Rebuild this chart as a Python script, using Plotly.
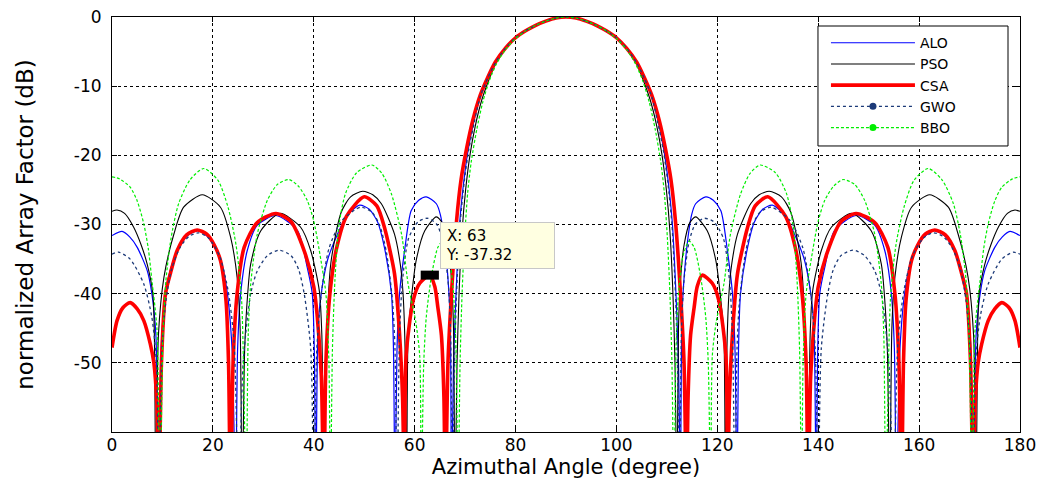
import plotly.graph_objects as go

# ---------------- data ----------------
# (angle in degrees, normalized array factor in dB); values below -60 are deep nulls
ALO = [(0,-31.6),(2,-31.0),(3.5,-31.8),(5,-33.3),(7,-36.7),(7.9,-40),(8.7,-46),(9.2,-70),
       (9.8,-47),(10.6,-40),(11.8,-36),(13.2,-33.5),(15,-31.6),(17,-30.9),(19,-31.8),(21.5,-35),(22.8,-39.6),(23.8,-48),(24.5,-70),
       (24.9,-48),(25.5,-40),(26.8,-33.8),(28.8,-30.1),(32.5,-28.7),(36.8,-30.9),(38.7,-36.2),(39.7,-40),(40.1,-48),(40.4,-70),
       (40.8,-46),(41.3,-41),(42.7,-35.2),(44.7,-31.4),(46.5,-28.8),(49.1,-27.2),(51,-27.8),(52.7,-29.7),(54,-33.3),(55.4,-40),(55.8,-48),(56.1,-70),
       (56.5,-48),(57,-40),(58,-33.8),(59.3,-28),(60.8,-26.5),(62.3,-26.0),(64.3,-27),(65.1,-28.6),(66,-33),(66.8,-40),(67.1,-46),(67.3,-70),
       (67.7,-50),(68.2,-40),(68.9,-30),(69.7,-24),(70.6,-19.2),(71.7,-15.2),(73,-11.5),(74.5,-8.8),(76,-6.6),(78,-4.5),(80,-3.0),(82,-2.0),(84,-1.2),(86,-0.6),(88,-0.15),(90,0),
       (92,-0.15),(94,-0.6),(96,-1.2),(98,-2.0),(100,-3.0),(102,-4.5),(104,-6.6),(105.5,-8.8),(107,-11.5),(108.3,-15.2),(109.4,-19.2),(110.3,-24),(111.1,-30),(111.8,-40),(112.3,-50),
       (112.7,-70),(112.9,-46),(113.2,-40),(114,-33),(114.9,-28.6),(115.7,-27),(117.7,-26.0),(119.2,-26.5),(120.7,-28),(122,-33.8),(123,-40),(123.5,-48),
       (123.9,-70),(124.2,-48),(124.6,-40),(126,-33.3),(127.3,-29.7),(129,-27.8),(130.9,-27.2),(133.5,-28.8),(135.3,-31.4),(137.3,-35.2),(138.7,-41),(139.2,-46),
       (139.6,-70),(139.9,-48),(140.3,-40),(141.3,-36.2),(143.2,-30.9),(147.5,-28.7),(151.2,-30.1),(153.2,-33.8),(154.5,-40),(155.1,-48),
       (155.5,-70),(156.2,-48),(157.2,-39.6),(158.5,-35),(161,-31.8),(163,-30.9),(165,-31.6),(166.8,-33.5),(168.2,-36),(169.4,-40),(170.2,-47),
       (170.8,-70),(171.3,-46),(172.1,-40),(173,-36.7),(175,-33.3),(176.5,-31.8),(178,-31.0),(180,-31.6)]

PSO = [(0,-28.1),(1,-27.9),(2.5,-28.4),(4.3,-30.4),(5.8,-33),(7,-35.8),(8.1,-40),(8.4,-46),(8.7,-70),
       (9.2,-46),(10.3,-37.6),(12.3,-31.3),(14.2,-27.5),(17.9,-25.7),(21.5,-27.5),(23.5,-31.8),(24.8,-37.6),(25.4,-45),(25.8,-70),
       (26.3,-48),(26.9,-40),(27.5,-35.7),(29.5,-30.9),(33.3,-28.4),(37.4,-30.4),(39.4,-33.8),(41.1,-39.6),(41.6,-46),(42,-70),
       (42.5,-47),(43.4,-35.5),(45.4,-28.3),(47.3,-26),(49.7,-25.2),(51.7,-25.7),(53.4,-27),(56,-31.4),(57.2,-36),(57.7,-40),(58.1,-48),(58.4,-70),
       (58.7,-46),(59.3,-41),(60.3,-35.2),(62,-30.9),(64.3,-28.9),(65.5,-29.8),(66.6,-33),(67.3,-38),(67.7,-45),(68.0,-70),
       (68.4,-50),(68.8,-40),(69.4,-31),(70.1,-25),(71,-19.8),(72,-15.8),(73.3,-12),(74.7,-9.1),(76,-6.8),(78,-4.6),(80,-3.0),(82,-2.0),(84,-1.2),(86,-0.6),(88,-0.15),(90,0),
       (92,-0.15),(94,-0.6),(96,-1.2),(98,-2.0),(100,-3.0),(102,-4.6),(104,-6.8),(105.3,-9.1),(106.7,-12),(108,-15.8),(109,-19.8),(109.9,-25),(110.6,-31),(111.2,-40),(111.6,-50),
       (112,-70),(112.3,-45),(112.7,-38),(113.4,-33),(114.5,-29.8),(115.7,-28.9),(118,-30.9),(119.7,-35.2),(120.7,-41),(121.3,-46),
       (121.6,-70),(121.9,-48),(122.3,-40),(122.8,-36),(124,-31.4),(126.6,-27),(128.3,-25.7),(130.3,-25.2),(132.7,-26),(134.6,-28.3),(136.6,-35.5),(137.5,-47),
       (138,-70),(138.4,-46),(138.9,-39.6),(140.6,-33.8),(142.6,-30.4),(146.7,-28.4),(150.5,-30.9),(152.5,-35.7),(153.1,-40),(153.7,-48),
       (154.2,-70),(154.6,-45),(155.2,-37.6),(156.5,-31.8),(158.5,-27.5),(162.1,-25.7),(165.8,-27.5),(167.7,-31.3),(169.7,-37.6),(170.8,-46),
       (171.3,-70),(171.6,-46),(171.9,-40),(173,-35.8),(174.2,-33),(175.7,-30.4),(177.5,-28.4),(179,-27.9),(180,-28.1)]

CSA = [(0,-47.8),(1,-43.9),(2.2,-42),(3.6,-41.3),(5,-42.2),(6.3,-43.9),(7.6,-47.3),(8.3,-50),(8.9,-56),(9.3,-70),
       (9.8,-50),(10.6,-40),(11.6,-37),(12.9,-33.8),(14.8,-31.5),(16.9,-30.8),(18.8,-31.4),(20.3,-33),(21.5,-35.2),(22.6,-41),(23.1,-50),(23.5,-70),
       (24.0,-50),(24.8,-40),(26.2,-33.3),(28.8,-29.7),(32.5,-28.4),(35.5,-29.6),(38.1,-33.8),(40,-39),(40.7,-43.4),(41.5,-52),(42,-70),
       (42.4,-50),(43.2,-40),(44.5,-33.5),(46.5,-28.8),(50.0,-26.0),(52.5,-27.3),(54,-30.4),(56,-37.1),(57,-45.8),(57.6,-55),(58,-70),
       (58.3,-49),(59.7,-41),(61,-38.5),(63,-37.32),(64,-39),(64.6,-42),(65.3,-46),(65.8,-55),(66.1,-70),
       (66.6,-50),(67.3,-40),(68.3,-29.5),(69.2,-23.5),(70.3,-19.0),(71.5,-15.0),(73,-11.3),(74.5,-8.7),(76,-6.5),(78,-4.5),(80,-3.0),(82,-2.0),(84,-1.2),(86,-0.6),(88,-0.15),(90,0),
       (92,-0.15),(94,-0.6),(96,-1.2),(98,-2.0),(100,-3.0),(102,-4.5),(104,-6.5),(105.5,-8.7),(107,-11.3),(108.5,-15.0),(109.7,-19.0),(110.8,-23.5),(111.7,-29.5),(112.7,-40),(113.4,-50),
       (113.9,-70),(114.2,-55),(114.7,-46),(115.4,-42),(116,-39),(117,-37.32),(119,-38.5),(120.3,-41),(121.7,-49),
       (122,-70),(122.4,-55),(123,-45.8),(124,-37.1),(126,-30.4),(127.5,-27.3),(130.0,-26.0),(133.5,-28.8),(135.5,-33.5),(136.8,-40),(137.6,-50),
       (138,-70),(138.5,-52),(139.3,-43.4),(140,-39),(141.9,-33.8),(144.5,-29.6),(147.5,-28.4),(151.2,-29.7),(153.8,-33.3),(155.2,-40),(156,-50),
       (156.5,-70),(156.9,-50),(157.4,-41),(158.5,-35.2),(159.7,-33),(161.2,-31.4),(163.1,-30.8),(165.2,-31.5),(167.1,-33.8),(168.4,-37),(169.4,-40),(170.2,-50),
       (170.7,-70),(171.1,-56),(171.7,-50),(172.4,-47.3),(173.7,-43.9),(175,-42.2),(176.4,-41.3),(177.8,-42),(179,-43.9),(180,-47.8)]

GWO = [(0,-34.3),(1.3,-34.0),(3.6,-35),(6.3,-38.6),(7.9,-43.4),(8.8,-50),(9.3,-70),
       (9.9,-48),(10.7,-41),(11.8,-36.5),(13.5,-33.3),(15.3,-31.7),(17.2,-31.2),(19.2,-32),(21.3,-34.5),(23,-39.5),(24.2,-47),(25.1,-70),
       (26,-50),(27.5,-40),(28.8,-36.7),(30.8,-34.5),(33.1,-33.7),(35.5,-34.5),(37,-36.5),(38.1,-40),(39.4,-48),(40,-70),
       (40.6,-48),(41.5,-40),(43,-33.5),(45.5,-29.5),(49.3,-27.5),(51.5,-28.2),(53,-30),(54.4,-34),(55.6,-41),(56.1,-48),(56.5,-70),
       (57.0,-46),(57.6,-38),(58.8,-32),(60.7,-29.6),(62.6,-29.1),(64.4,-30),(65.6,-32.5),(66.6,-38),(67.1,-45),(67.5,-70),
       (67.9,-50),(68.3,-40),(69,-30),(69.8,-24),(70.7,-19.3),(71.8,-15.3),(73,-11.5),(74.5,-8.8),(76,-6.6),(78,-4.5),(80,-3.0),(82,-2.0),(84,-1.2),(86,-0.6),(88,-0.15),(90,0),
       (92,-0.15),(94,-0.6),(96,-1.2),(98,-2.0),(100,-3.0),(102,-4.5),(104,-6.6),(105.5,-8.8),(107,-11.5),(108.2,-15.3),(109.3,-19.3),(110.2,-24),(111,-30),(111.7,-40),(112.1,-50),
       (112.5,-70),(112.9,-45),(113.4,-38),(114.4,-32.5),(115.6,-30),(117.4,-29.1),(119.3,-29.6),(121.2,-32),(122.4,-38),(123,-46),
       (123.5,-70),(123.9,-48),(124.4,-41),(125.6,-34),(127,-30),(128.5,-28.2),(130.7,-27.5),(134.5,-29.5),(137,-33.5),(138.5,-40),(139.4,-48),
       (140,-70),(140.6,-48),(141.9,-40),(143,-36.5),(144.5,-34.5),(146.9,-33.7),(149.2,-34.5),(151.2,-36.7),(152.5,-40),(154,-50),
       (154.9,-70),(155.8,-47),(157,-39.5),(158.7,-34.5),(160.8,-32),(162.8,-31.2),(164.7,-31.7),(166.5,-33.3),(168.2,-36.5),(169.3,-41),(170.1,-48),
       (170.7,-70),(171.2,-50),(172.1,-43.4),(173.7,-38.6),(176.4,-35),(178.7,-34.0),(180,-34.3)]

BBO = [(0,-23.1),(1.5,-23.4),(3.6,-24.6),(5,-26.6),(6.3,-29.9),(7.2,-33.5),(7.9,-38),(8.9,-45),(9.5,-70),
       (10.1,-46),(10.7,-38),(11.7,-32),(13.2,-27),(15.5,-23.5),(18.2,-21.9),(21,-23.6),(23,-27.5),(24.6,-33),(25.7,-41),(26.6,-70),
       (27.0,-46),(27.5,-38.6),(28.8,-31.4),(30.8,-26.5),(32.8,-24.2),(35.1,-23.5),(37,-24.5),(38.7,-26.5),(40,-29.5),(41.1,-33.8),(42.4,-40),(43,-50),(43.3,-70),
       (43.7,-48),(44.2,-38),(45,-30),(46.3,-25.5),(48.5,-22.5),(51.5,-21.4),(53.5,-22.6),(55.4,-25.6),(57.4,-31.4),(58.7,-38.6),(60.2,-44),(61,-49),(61.3,-70),
       (61.8,-50),(62.3,-43.4),(63.3,-37.6),(64.6,-33.3),(65.6,-32.4),(66.8,-34.5),(67.7,-40),(68.2,-48),(68.6,-70),
       (69.0,-50),(69.4,-40),(69.9,-32),(70.5,-25.5),(71.2,-21),(72.3,-16.3),(73.5,-12.3),(74.8,-9.2),(76.2,-6.8),(78,-4.7),(80,-3.1),(82,-2.0),(84,-1.2),(86,-0.6),(88,-0.15),(90,0),
       (92,-0.15),(94,-0.6),(96,-1.2),(98,-2.0),(100,-3.1),(102,-4.7),(103.8,-6.8),(105.2,-9.2),(106.5,-12.3),(107.7,-16.3),(108.8,-21),(109.5,-25.5),(110.1,-32),(110.6,-40),(111,-50),
       (111.4,-70),(111.8,-48),(112.3,-40),(113.2,-34.5),(114.4,-32.4),(115.4,-33.3),(116.7,-37.6),(117.7,-43.4),(118.2,-50),
       (118.7,-70),(119,-49),(119.8,-44),(121.3,-38.6),(122.6,-31.4),(124.6,-25.6),(126.5,-22.6),(128.5,-21.4),(131.5,-22.5),(133.7,-25.5),(135,-30),(135.8,-38),(136.3,-48),
       (136.7,-70),(137,-50),(137.6,-40),(138.9,-33.8),(140,-29.5),(141.3,-26.5),(143,-24.5),(144.9,-23.5),(147.2,-24.2),(149.2,-26.5),(151.2,-31.4),(152.5,-38.6),(153,-46),
       (153.4,-70),(154.3,-41),(155.4,-33),(157,-27.5),(159,-23.6),(161.8,-21.9),(164.5,-23.5),(166.8,-27),(168.3,-32),(169.3,-38),(169.9,-46),
       (170.5,-70),(171.1,-45),(172.1,-38),(172.8,-33.5),(173.7,-29.9),(175,-26.6),(176.4,-24.6),(178.5,-23.4),(180,-23.1)]

X_TICKS = [0, 20, 40, 60, 80, 100, 120, 140, 160, 180]
Y_TICKS = [0, -10, -20, -30, -40, -50]
X_RANGE = [0, 180]
Y_RANGE = [-60, 0]

DATATIP_X = 63
DATATIP_Y = -37.32

# ---------------- figure ----------------
FONT = "DejaVu Sans"
fig = go.Figure()

styles = [
    ("ALO", ALO, dict(color="#0000ff", width=1.2), False),
    ("PSO", PSO, dict(color="#000000", width=1.1), False),
    ("CSA", CSA, dict(color="#ff0000", width=3.6), False),
    ("GWO", GWO, dict(color="#1c3a78", width=1.3, dash="dot"), True),
    ("BBO", BBO, dict(color="#00ee00", width=1.2, dash="3px,2px"), True),
]

for name, pts, line, dotted_legend in styles:
    xs = [p[0] for p in pts]
    ys = [p[1] for p in pts]
    line = dict(line, shape="spline", smoothing=0.7)
    fig.add_trace(go.Scatter(x=xs, y=ys, mode="lines", name=name, line=line,
                             showlegend=not dotted_legend, hoverinfo="x+y"))
    if dotted_legend:
        # legend entry only (line with a dot marker, as in the reference legend)
        fig.add_trace(go.Scatter(x=[None], y=[None], mode="lines+markers", name=name,
                                 line=dict(color=line["color"], width=line["width"], dash=line["dash"]),
                                 marker=dict(color=line["color"], size=7, symbol="circle")))

# data tip marker
fig.add_trace(go.Scatter(x=[DATATIP_X], y=[DATATIP_Y], mode="markers", showlegend=False,
                         marker=dict(symbol="line-ew", size=13, color="black",
                                     line=dict(color="black", width=9)),
                         hoverinfo="skip"))

fig.add_annotation(x=DATATIP_X, y=DATATIP_Y, xref="x", yref="y",
                   text=f"X: {DATATIP_X}<br>Y: {DATATIP_Y:.2f}",
                   showarrow=False, xanchor="left", yanchor="bottom",
                   xshift=10, yshift=6, align="left",
                   bgcolor="#ffffe1", bordercolor="#c8c8c8", borderwidth=1, borderpad=5,
                   width=103, height=35,
                   font=dict(family=FONT, size=15, color="black"))

# legend frame (white box with black border, wider than the entries as in the reference)
fig.add_shape(type="rect", xref="paper", yref="paper",
              x0=0.7775, x1=0.9868, y0=0.6892, y1=0.9783,
              fillcolor="white", line=dict(color="black", width=1), layer="above")

axis_common = dict(
    showline=True, linecolor="black", linewidth=1, mirror="ticks",
    ticks="inside", ticklen=5, tickcolor="black",
    showgrid=True, gridcolor="black", gridwidth=1, griddash="dot",
    zeroline=False, tickfont=dict(family=FONT, size=17, color="black"),
    ticklabeloverflow="allow",
)

fig.update_xaxes(range=X_RANGE, tickvals=X_TICKS, ticktext=[str(v) for v in X_TICKS],
                 ticklabelstandoff=-2,
                 title=dict(text="Azimuthal Angle (degree)", font=dict(family=FONT, size=21, color="black"),
                            standoff=4),
                 **axis_common)
fig.update_yaxes(range=Y_RANGE, tickvals=Y_TICKS, ticktext=[str(v) for v in Y_TICKS],
                 ticklabelstandoff=6,
                 title=dict(text="normalized Array Factor (dB)", font=dict(family=FONT, size=23, color="black"),
                            standoff=33),
                 **axis_common)

# the page adds an 8 px body margin, so the figure is 8 px smaller on each axis
fig.update_layout(
    width=1037, height=472,
    margin=dict(l=104, r=25, t=9, b=48, autoexpand=False),
    paper_bgcolor="white", plot_bgcolor="white",
    font=dict(family=FONT, color="black"),
    legend=dict(x=0.7863, y=0.9755, xanchor="left", yanchor="top",
                bgcolor="white", borderwidth=0,
                font=dict(family=FONT, size=14, color="black"),
                itemwidth=84, traceorder="normal"),
    showlegend=True,
)

fig.write_html("out.html")
